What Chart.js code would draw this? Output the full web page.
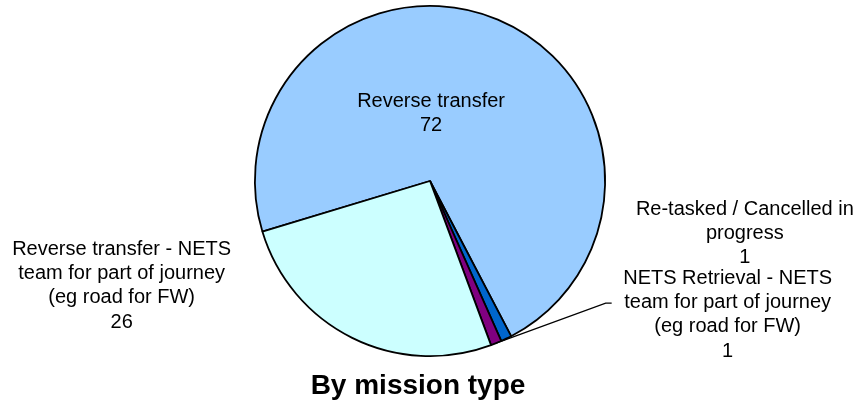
<!DOCTYPE html>
<html><head><meta charset="utf-8">
<script src="https://cdn.jsdelivr.net/npm/chart.js@4"></script>
<style>html,body{margin:0;padding:0;background:#fff}#w{width:859px;height:405px}</style>
</head><body><div id="w"><canvas id="c"></canvas></div>
<script>
const categories = ["Reverse transfer", "Re-tasked / Cancelled in progress", "NETS Retrieval - NETS team for part of journey (eg road for FW)", "Reverse transfer - NETS team for part of journey (eg road for FW)"];
const values = [72, 1, 1, 26];
const colors = ["#99CCFF", "#0066CC", "#800080", "#CCFFFF"];
const labelLines = [
  ["Reverse transfer", "72"],
  ["Re-tasked / Cancelled in", "progress", "1"],
  ["NETS Retrieval - NETS", "team for part of journey", "(eg road for FW)", "1"],
  ["Reverse transfer - NETS", "team for part of journey", "(eg road for FW)", "26"]
];
// label anchor offsets in units of radius (first line centre)
const labelOffsets = [[0.006, -0.455], [1.798, 0.16], [1.70, 0.555], [-1.761, 0.39]];
const titleText = "By mission type";

const labelPlugin = {
  id: 'lbl',
  afterDraw(chart) {
    const ctx = chart.ctx;
    const meta = chart.getDatasetMeta(0);
    const a0 = meta.data[0];
    const cx = a0.x, cy = a0.y, r = a0.outerRadius;
    ctx.save();
    ctx.fillStyle = '#000';
    ctx.textAlign = 'center';
    ctx.textBaseline = 'middle';
    ctx.font = '20px "Liberation Sans", Arial, sans-serif';
    labelLines.forEach((lines, i) => {
      const x = cx + labelOffsets[i][0] * r;
      const y0 = cy + labelOffsets[i][1] * r;
      lines.forEach((t, j) => ctx.fillText(t, x, y0 + j * 24.3));
    });
    // leader line for NETS Retrieval slice
    const arc = meta.data[2];
    const mid = (arc.startAngle + arc.endAngle) / 2;
    const sx = cx + Math.cos(mid) * r, sy = cy + Math.sin(mid) * r;
    const ex = cx + labelOffsets[2][0] * r - 122, ey = cy + labelOffsets[2][1] * r + 25;
    ctx.strokeStyle = '#000';
    ctx.lineWidth = 1.3;
    ctx.beginPath();
    ctx.moveTo(sx, sy);
    ctx.lineTo(ex, ey);
    ctx.lineTo(ex + 6, ey);
    ctx.stroke();
    // title
    ctx.font = 'bold 28px "Liberation Sans", Arial, sans-serif';
    ctx.fillText(titleText, cx - 12, cy + r + 30);
    ctx.restore();
  }
};

new Chart(document.getElementById('c'), {
  type: 'pie',
  data: {
    labels: categories,
    datasets: [{
      data: values,
      backgroundColor: colors,
      borderColor: '#000',
      borderWidth: 1.8
    }]
  },
  options: {
    responsive: true,
    maintainAspectRatio: false,
    animation: false,
    rotation: 253.2,
    layout: { padding: { left: 254, right: 253, top: 5, bottom: 48 } },
    plugins: { legend: { display: false }, tooltip: { enabled: false }, title: { display: false } }
  },
  plugins: [labelPlugin]
});
</script>
</body></html>
